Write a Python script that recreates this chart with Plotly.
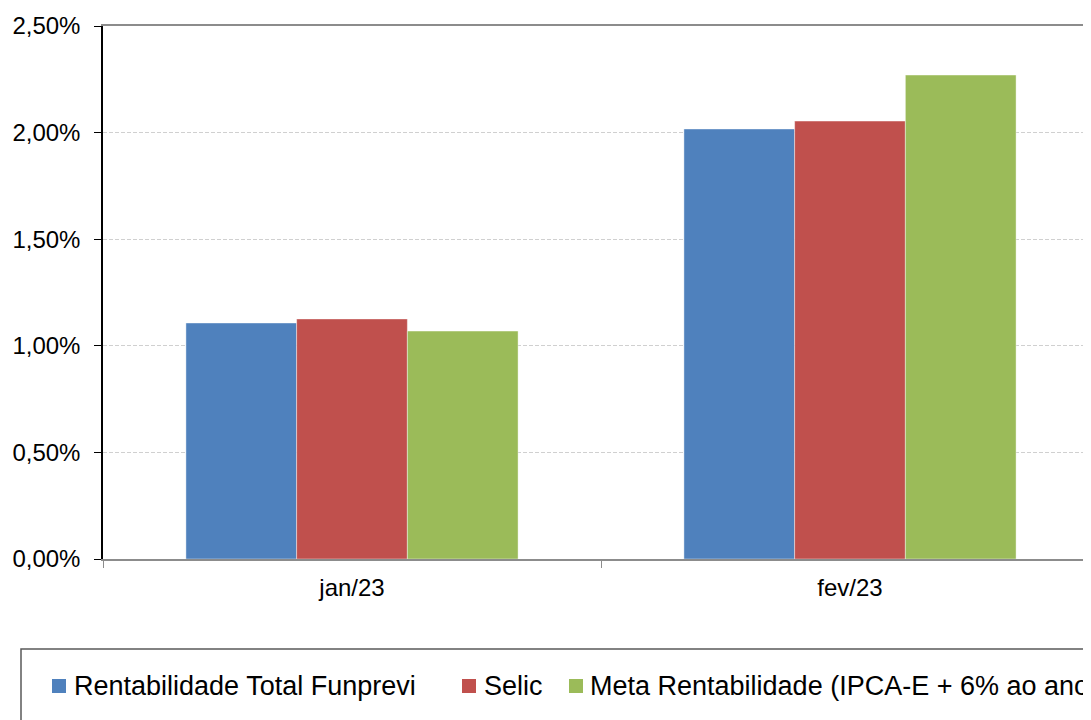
import plotly.graph_objects as go

# ---- data ----
categories = ["jan/23", "fev/23"]
series_names = [
    "Rentabilidade Total Funprevi",
    "Selic",
    "Meta Rentabilidade (IPCA-E + 6% ao ano)",
]
rent_total = [1.107, 2.017]
selic = [1.126, 2.054]
meta = [1.069, 2.270]
colors = ["#4F81BD", "#C0504D", "#9BBB59"]

# the page body has an 8px margin, so the figure starts at (8, 8) in the window
OFF = 8
W, H = 1091, 720
L, T, B = 103 - OFF, 26 - OFF, 720 - (559 - OFF)
R = 0
PW = W - L - R          # 996 -> plot area spans 103..1099 in the window
PH = H - T - B          # 533
FONT = "Liberation Sans, Arial, sans-serif"


def px(x):
    """window pixel x -> paper fraction"""
    return (x - OFF - L) / PW


def py(y):
    """window pixel y -> paper fraction"""
    return (H - B - (y - OFF)) / PH


fig = go.Figure()
for name, vals, col in zip(series_names, [rent_total, selic, meta], colors):
    fig.add_trace(go.Bar(
        x=categories, y=vals, name=name, marker_color=col,
        marker_line_width=0.6, marker_line_color="rgba(255,255,255,0.7)",
        showlegend=False,
    ))

fig.update_layout(
    width=W, height=H,
    margin=dict(l=L, r=R, t=T, b=B, pad=0),
    paper_bgcolor="white", plot_bgcolor="white",
    barmode="group", bargap=0.333, bargroupgap=0,
    separators=",.",
    font=dict(family=FONT, size=24, color="#000000"),
    xaxis=dict(
        type="category", range=[-0.5, 1.5],
        showline=True, linecolor="#8c8c8c", linewidth=1.5, mirror=True,
        ticks="outside", tickson="boundaries", ticklen=7, tickcolor="#8c8c8c",
        tickfont=dict(size=24, family=FONT, color="#000000"),
        ticklabelstandoff=6,
        showgrid=False,
    ),
    yaxis=dict(
        range=[0, 2.5], dtick=0.5, tick0=0,
        tickformat=".2f", ticksuffix="%",
        showline=True, linecolor="#000000", linewidth=1.5,
        ticks="outside", ticklen=7, tickcolor="#000000",
        tickfont=dict(size=24, family=FONT, color="#000000"),
        ticklabelstandoff=9,
        showgrid=True, gridcolor="#d0d0d0", griddash="4px,2px", gridwidth=1,
        zeroline=False,
    ),
)

# ---- legend drawn manually (box clipped at the right edge like the reference) ----
shapes = [dict(
    type="rect", xref="paper", yref="paper",
    x0=px(21), x1=px(1130), y0=py(649), y1=py(760),
    line=dict(color="#595959", width=1.5), fillcolor="rgba(0,0,0,0)", layer="above",
)]
legend_items = [
    (series_names[0], colors[0], 52, 72),
    (series_names[1], colors[1], 462, 482),
    (series_names[2], colors[2], 569, 588),
]
annotations = []
for name, col, sx, tx in legend_items:
    shapes.append(dict(
        type="rect", xref="paper", yref="paper",
        x0=px(sx), x1=px(sx + 14), y0=py(693), y1=py(679),
        line=dict(width=0), fillcolor=col,
    ))
    annotations.append(dict(
        xref="paper", yref="paper", x=px(tx), y=py(686),
        xanchor="left", yanchor="middle", text=name, showarrow=False,
        font=dict(family=FONT, size=27, color="#000000"),
    ))
fig.update_layout(shapes=shapes, annotations=annotations)

fig.write_html("out.html")
